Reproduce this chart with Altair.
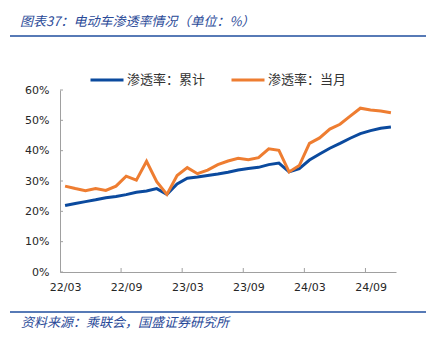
import altair as alt
import pandas as pd

months = ["22/03", "22/04", "22/05", "22/06", "22/07", "22/08", "22/09", "22/10", "22/11", "22/12",
          "23/01", "23/02", "23/03", "23/04", "23/05", "23/06", "23/07", "23/08", "23/09", "23/10",
          "23/11", "23/12", "24/01", "24/02", "24/03", "24/04", "24/05", "24/06", "24/07", "24/08",
          "24/09", "24/10", "24/11"]
cumulative = [21.9, 22.6, 23.2, 23.8, 24.5, 24.9, 25.5, 26.3, 26.7, 27.5,
              25.6, 29.0, 30.9, 31.3, 31.8, 32.3, 32.9, 33.6, 34.1, 34.5,
              35.4, 35.9, 33.0, 34.1, 36.9, 38.9, 40.8, 42.4, 44.1, 45.6,
              46.6, 47.4, 47.8]
monthly = [28.3, 27.5, 26.8, 27.5, 26.9, 28.3, 31.6, 30.3, 36.5, 29.8,
           25.6, 31.8, 34.4, 32.4, 33.6, 35.4, 36.6, 37.5, 37.0, 37.7,
           40.6, 40.1, 33.0, 35.1, 42.4, 44.2, 47.1, 48.7, 51.4, 54.0,
           53.4, 53.1, 52.5]
series_names = ["渗透率：累计", "渗透率：当月"]
series_colors = ["#0B4A9E", "#EE7D31"]
label_months = ["22/03", "22/09", "23/03", "23/09", "24/03", "24/09"]
tick_months = ["22/09", "23/03", "23/09", "24/03", "24/09"]
y_ticks = [0, 10, 20, 30, 40, 50, 60]
title_text = "图表37：电动车渗透率情况（单位：%）"
source_text = "资料来源：乘联会，国盛证券研究所"

W, H = 336, 182
step = W / len(months)
TEXT_BLUE = "#2A4A98"
AXIS_GRAY = "#A0A0A0"
CJK = "Noto Sans CJK SC"

df = pd.DataFrame({
    "month": months * 2,
    "value": cumulative + monthly,
    "series": [series_names[0]] * len(months) + [series_names[1]] * len(months),
})

xscale = alt.Scale(domain=months, type="point", padding=0.5)
yscale = alt.Scale(domain=[0, 60], nice=False)
xaxis = alt.Axis(values=label_months, labelAngle=0, ticks=False, title=None, grid=False,
                 domainColor=AXIS_GRAY, labelFont="DejaVu Sans", labelFontSize=11,
                 labelColor="#262626", labelPadding=9)
yaxis = alt.Axis(values=y_ticks, labelExpr="datum.value + '%'", ticks=False, grid=False,
                 title=None, domainColor=AXIS_GRAY, labelFont="DejaVu Sans",
                 labelFontSize=11, labelColor="#262626", labelPadding=11)

lines = alt.Chart(df).mark_line(strokeWidth=3).encode(
    x=alt.X("month:O", scale=xscale, sort=months, axis=xaxis),
    y=alt.Y("value:Q", scale=yscale, axis=yaxis),
    color=alt.Color("series:N", scale=alt.Scale(domain=series_names, range=series_colors),
                    legend=alt.Legend(orient="none", legendX=29, legendY=-28, direction="horizontal",
                                      title=None, symbolType="stroke", symbolSize=1089,
                                      symbolStrokeWidth=3, labelFont=CJK, labelFontSize=13,
                                      labelColor="#333333", columnPadding=19, labelOffset=2,
                                      padding=0)),
)

yticks = alt.Chart(pd.DataFrame({"value": y_ticks})).mark_rule(color=AXIS_GRAY, strokeWidth=1).encode(
    y=alt.Y("value:Q", scale=yscale, axis=yaxis),
    x=alt.value(0), x2=alt.value(3),
)

xticks = alt.Chart(pd.DataFrame({"month": tick_months})).mark_rule(
    color=AXIS_GRAY, strokeWidth=1, xOffset=-step / 2).encode(
    x=alt.X("month:O", scale=xscale, sort=months, axis=xaxis),
    y=alt.value(H), y2=alt.value(H - 4),
)

top_rule = alt.Chart(pd.DataFrame({"a": [0]})).mark_rule(color="#1F4E9E", strokeWidth=1.5).encode(
    x=alt.value(-50), x2=alt.value(366), y=alt.value(-54))
bottom_rule = alt.Chart(pd.DataFrame({"a": [0]})).mark_rule(color="#1F4E9E", strokeWidth=1.5).encode(
    x=alt.value(-50), x2=alt.value(366), y=alt.value(222))

title = alt.Chart(pd.DataFrame({"t": [title_text]})).mark_text(
    align="left", baseline="middle", font=CJK, fontSize=13, fontStyle="italic", color=TEXT_BLUE).encode(
    text="t:N", x=alt.value(-40), y=alt.value(-68))
source = alt.Chart(pd.DataFrame({"t": [source_text]})).mark_text(
    align="left", baseline="middle", font=CJK, fontSize=13, fontStyle="italic", color=TEXT_BLUE).encode(
    text="t:N", x=alt.value(-39), y=alt.value(233))

chart = alt.layer(lines, yticks, xticks, top_rule, bottom_rule, title, source).properties(
    width=W, height=H,
    background="white",
    autosize=alt.AutoSizeParams(type="none"),
    padding={"left": 60, "top": 90, "right": 42, "bottom": 69},
).configure_view(stroke=None)

chart.save("out.html", embed_options={"renderer": "svg", "actions": False})
